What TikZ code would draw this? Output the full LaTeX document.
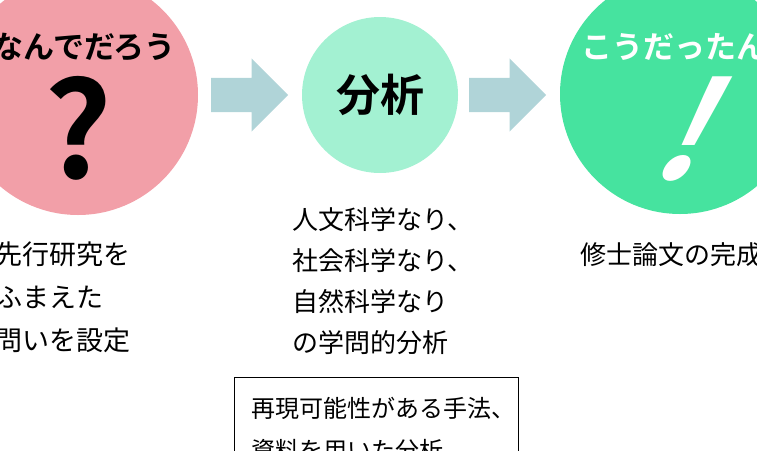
\documentclass[tikz,border=0pt]{standalone}
\usepackage{fontspec}
\setmainfont{Noto Sans CJK JP}[BoldFont={Noto Sans CJK JP Bold}]
\newfontfamily\slantjp{Noto Sans CJK JP Bold}[FakeSlant=0.5]
\usepackage{tikz}
\usetikzlibrary{shapes.arrows}
\usetikzlibrary{positioning}
\usepackage{xcolor}
\definecolor{whypink}{HTML}{F29FA8}
\definecolor{anamint}{HTML}{A3F1D2}
\definecolor{ahagreen}{HTML}{46E39F}
\definecolor{flowblue}{HTML}{B0D4D8}
\tikzstyle{stage}=[
  circle,inner sep=0pt,minimum size=240pt
]
\tikzstyle{flow}=[
  single arrow,fill=flowblue,inner xsep=0pt,inner ysep=17pt,minimum height=77pt,
  single arrow head extend=19.5pt,single arrow head indent=0pt,anchor=tail
]
\tikzstyle{stagetitle}=[
  font=\bfseries\fontsize{31}{31}\selectfont,inner sep=0pt
]
\tikzstyle{note}=[
  font=\fontsize{26}{43}\selectfont,align=left,anchor=north west,inner sep=0pt
]

\begin{document}
\begin{tikzpicture}[x=1pt,y=-1pt]
    \useasboundingbox (0,0) rectangle (757,450);
    \clip (0,0) rectangle (757,450);
      % stages
      \node (why) at (78,95) [stage,fill=whypink] {};
      \node (analysis) at (380,95) [stage,minimum size=156pt,fill=anamint] {};
      \node (aha) at (680,94) [stage,fill=ahagreen] {};
      \node (a1) at (211,95) [flow] {};
      \node (a2) at (469,95) [flow] {};
      % texts in the circles
      \node (whytitle) at (84,47) [stagetitle] {なんでだろう};
      \node (whymark) at (78,128) [inner sep=0pt,font=\bfseries\fontsize{132}{132}\selectfont] {?};
      \node (anatitle) at (analysis) [inner sep=0pt,font=\bfseries\fontsize{44}{44}\selectfont] {分析};
      \node (ahatitle) at (690,47) [stagetitle,text=white] {こうだったんだ};
      \node (ahamark) at (671,129) [inner sep=0pt,text=white,font=\slantjp\fontsize{135}{135}\selectfont] {!};
      % texts below
      \node (whynote) at (-5,242) [note,font=\fontsize{27}{43}\selectfont] {先行研究を\\ふまえた\\問いを設定};
      \node (ananote) at (292,207) [note,font=\fontsize{26}{41}\selectfont] {人文科学なり、\\社会科学なり、\\自然科学なり\\の学問的分析};
      \node (ahanote) at (580,242) [note] {修士論文の完成};
      \node (method) at (234,377) [draw,anchor=north west,align=left,text width=250pt,
        inner xsep=17pt,inner ysep=20pt,font=\fontsize{24}{42}\selectfont]
        {再現可能性がある手法、\\資料を用いた分析};
    \end{tikzpicture}
\end{document}
